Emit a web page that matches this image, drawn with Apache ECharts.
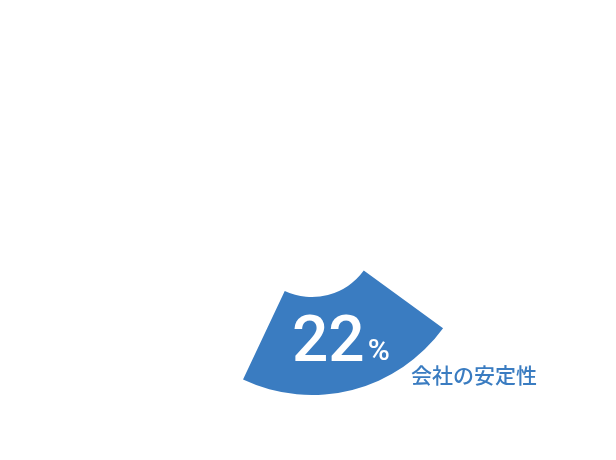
<!DOCTYPE html>
<html>
<head>
<meta charset="utf-8">
<script src="https://cdn.jsdelivr.net/npm/echarts@6/dist/echarts.min.js"></script>
<style>
html,body{margin:0;padding:0;background:#fff;}
#container{width:616px;height:460px;}
</style>
</head>
<body>
<div id="container"></div>
<script>
// 表示する項目（22%の項目だけ色付き、残りは透明）
var categories = ['会社の安定性', 'その他'];
var values = [22, 78];
var colors = ['#3a7cc1', 'rgba(0,0,0,0)'];

function drawPie(){
	var dom = document.getElementById("container");
	var myChart = echarts.init(dom);

	var option = {
		backgroundColor: '#ffffff',
		animation: false,
		graphic: [{
			type: 'text',
			left: 411,
			top: 365,
			style: {
				text: categories[0],
				fill: '#3a7cc1',
				font: '500 21px "Noto Sans CJK JP"'
			}
		}],
		series: [{
			type: 'pie',
			center: [312, 233],
			radius: [64, 162],
			startAngle: -36,
			silent: true,
			label: {
				show: true,
				position: 'inside',
				formatter: function (p) {
					if (p.dataIndex !== 0) return '';
					return '{v|' + p.value + '}{p|%}';
				},
				rich: {
					v: {
						color: '#fff',
						fontSize: 64,
						fontWeight: 500,
						fontFamily: 'Roboto',
						verticalAlign: 'bottom'
					},
					p: {
						color: '#fff',
						fontSize: 30,
						fontWeight: 500,
						fontFamily: 'Roboto',
						verticalAlign: 'bottom',
						padding: [0, 0, 10, 3]
					}
				}
			},
			labelLine: {show: false},
			data: categories.map(function (name, i) {
				return {
					name: name,
					value: values[i],
					itemStyle: {color: colors[i]}
				};
			})
		}]
	};
	myChart.setOption(option, true);
}

window.onload = drawPie;
</script>
</body>
</html>
